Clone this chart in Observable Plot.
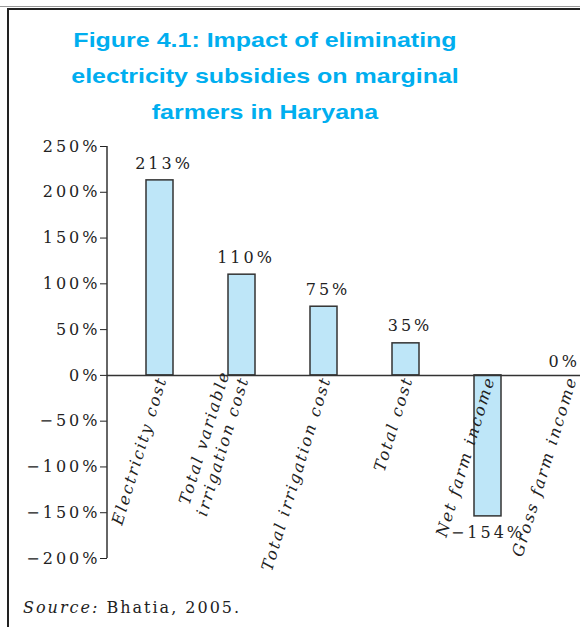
<!DOCTYPE html>
<html>
<head>
<meta charset="utf-8">
<script src="https://cdn.jsdelivr.net/npm/d3@7"></script>
<script src="https://cdn.jsdelivr.net/npm/@observablehq/plot@0.6"></script>
<style>
  html, body { margin: 0; padding: 0; background: #fff; }
  #page { position: relative; width: 580px; height: 627px; overflow: hidden; }
  #topline { position: absolute; left: 0; top: 6px; width: 580px; height: 1px; background: #999; }
  #box { position: absolute; left: 7px; top: 8px; width: 600px; height: 640px; border-left: 2px solid #222; border-top: 2px solid #222; box-sizing: border-box; }
  #title { position: absolute; left: 8px; top: 22px; width: 514px; text-align: center;
           font-family: "Liberation Sans", Arial, sans-serif; font-weight: bold; font-size: 21px;
           line-height: 36px; color: #00aeef; transform: scaleX(1.19); transform-origin: 257px 0; }
  #chart { position: absolute; left: 0; top: 130px; }
  #chart svg text { letter-spacing: 3px; }
  #chart svg g[font-style="italic"] text { letter-spacing: 2px; }
  #source { position: absolute; left: 23px; top: 597px; font-family: "DejaVu Serif", serif; font-size: 16px;
            line-height: 22px; color: #222; letter-spacing: 2px; }
</style>
</head>
<body>
<div id="page">
  <div id="topline"></div>
  <div id="box"></div>
  <div id="title">Figure 4.1: Impact of eliminating<br>electricity subsidies on marginal<br>farmers in Haryana</div>
  <div id="chart"></div>
  <div id="source"><i>Source:</i> Bhatia, 2005.</div>
</div>
<script>
const categories = ["Electricity cost", "Total variable irrigation cost", "Total irrigation cost", "Total cost", "Net farm income", "Gross farm income"];
const categoryLabels = ["Electricity cost", "Total variable\nirrigation cost", "Total irrigation cost", "Total cost", "Net farm income", "Gross farm income"];
const values = [213, 110, 75, 35, -154, 0];
const yTicks = [-200, -150, -100, -50, 0, 50, 100, 150, 200, 250];

const pct = d => (d < 0 ? "\u2212" : "") + Math.abs(d) + "%";
const data = categories.map((c, i) => ({cat: c, label: categoryLabels[i], value: values[i]}));
const last = data.length - 1;

const marginLeft = 107;
const chart = Plot.plot({
  width: 580,
  height: 460,
  marginTop: 16,
  marginBottom: 32,
  marginLeft,
  marginRight: 0,
  style: {fontFamily: "DejaVu Serif, serif", fontSize: "16px", color: "#222", background: "transparent"},
  x: {type: "band", domain: categories, range: [107, 623], paddingInner: 0.67, paddingOuter: 0.48, axis: null},
  y: {domain: [-200, 250], ticks: yTicks, tickFormat: pct, tickSize: 7, tickPadding: 0, label: null},
  marks: [
    Plot.barY(data, {x: "cat", y: "value", fill: "#bee6f8", stroke: "#333", strokeWidth: 1.5}),
    Plot.ruleY([0], {stroke: "#333", strokeWidth: 1.5}),
    Plot.text(data.filter((d, i) => d.value >= 0 && i < last), {x: "cat", y: "value", text: d => pct(d.value), dy: -17, dx: 4, fontSize: 16}),
    Plot.text(data.filter((d, i) => i === last), {x: "cat", y: "value", text: d => pct(d.value), dy: -14, dx: 10, textAnchor: "end", fontSize: 16}),
    Plot.text(data.filter(d => d.value < 0), {x: "cat", y: "value", text: d => pct(d.value), dy: 16, fontSize: 16}),
    Plot.text(data, {x: "cat", y: () => 0, text: "label", rotate: -73, textAnchor: "end", lineAnchor: "bottom",
                     lineHeight: 1.25, dx: 7, dy: 3, fontStyle: "italic", fontSize: 16})
  ]
});

// y-axis domain line drawn with the plot's own y scale
const ys = chart.scale("y");
const ns = "http://www.w3.org/2000/svg";
const axisLine = document.createElementNS(ns, "line");
axisLine.setAttribute("x1", marginLeft);
axisLine.setAttribute("x2", marginLeft);
axisLine.setAttribute("y1", ys.apply(-200));
axisLine.setAttribute("y2", ys.apply(250));
axisLine.setAttribute("stroke", "#333");
axisLine.setAttribute("stroke-width", 1.5);
chart.appendChild(axisLine);

document.getElementById("chart").appendChild(chart);
</script>
</body>
</html>
